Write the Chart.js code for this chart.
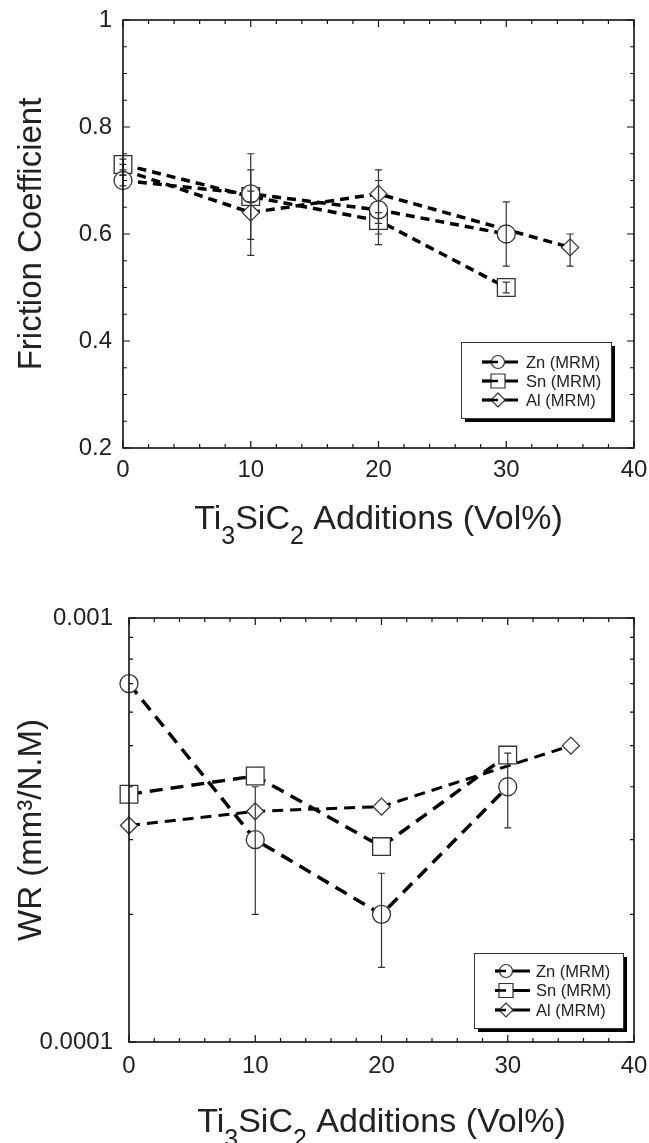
<!DOCTYPE html>
<html lang="en">
<head>
<meta charset="UTF-8" />
<title>Friction and wear vs Ti3SiC2 additions</title>
<script src="https://cdn.jsdelivr.net/npm/chart.js"></script>
<style>
  body { margin: 0; background: #fff; }
  canvas { display: block; }
</style>
</head>
<body>
<canvas id="friction" width="649" height="560"></canvas>
<canvas id="wear" width="649" height="583"></canvas>
<script>
// compositions (vol% Ti3SiC2) for each alloy series
const xZnSn = [0, 10, 20, 30];
const xAl = [0, 10, 20, 35];
const seriesNames = ["Zn (MRM)", "Sn (MRM)", "Al (MRM)"];
const xTicks = [0, 10, 20, 30, 40];

// friction coefficient
const znFriction = [0.70, 0.675, 0.645, 0.60];
const snFriction = [0.73, 0.67, 0.625, 0.50];
const alFriction = [0.72, 0.64, 0.675, 0.575];
const znFrictionErr = [[0.69, 0.71], [0.59, 0.75], [0.58, 0.70], [0.54, 0.66]];
const snFrictionErr = [[0.72, 0.74], [0.66, 0.68], [0.60, 0.64], [0.49, 0.51]];
const alFrictionErr = [[0.71, 0.73], [0.56, 0.72], [0.62, 0.72], [0.54, 0.60]];
const frictionTicks = [0.2, 0.4, 0.6, 0.8, 1];

// wear rate, mm3/N.M
const znWear = [0.0007, 0.0003, 0.0002, 0.0004];
const snWear = [0.000384, 0.000424, 0.000289, 0.000475];
const alWear = [0.000324, 0.00035, 0.000359, 0.0005];
const znWearErr = [null, [0.0002, 0.0004], [0.00015, 0.00025], [0.00032, 0.00048]];
const snWearErr = [null, null, null, null];
const alWearErr = [null, null, null, null];
const wearTicks = [0.0001, 0.001];
const wearTickLabels = ["0.0001", "0.001"];

const FONT = "'Liberation Sans', Arial, sans-serif";
Chart.defaults.font.family = FONT;
Chart.defaults.color = "#222";

function series(label, xs, ys, style, r, width, dash) {
  return {
    label,
    data: xs.map((x, i) => ({ x, y: ys[i] })),
    borderColor: "#000",
    borderWidth: width,
    borderDash: dash,
    pointStyle: style,
    pointRadius: r,
    pointBorderColor: "#333",
    pointBorderWidth: 1.3,
    pointBackgroundColor: "#fff",
    fill: false,
    tension: 0,
    clip: false,
  };
}

function marker(ctx, style, x, y, r) {
  ctx.beginPath();
  if (style === "circle") ctx.arc(x, y, r, 0, Math.PI * 2);
  else if (style === "rect") ctx.rect(x - r, y - r, 2 * r, 2 * r);
  else {
    ctx.moveTo(x, y - r); ctx.lineTo(x + r, y); ctx.lineTo(x, y + r); ctx.lineTo(x - r, y); ctx.closePath();
  }
  ctx.fillStyle = "#fff";
  ctx.fill();
  ctx.strokeStyle = "#333";
  ctx.lineWidth = 1.2;
  ctx.stroke();
}

// frame, inward ticks, error bars, legend box and subscripted x title
const figurePlugin = {
  id: "figure",
  afterDatasetsDraw(chart, args, o) {
    const { ctx, chartArea: a } = chart;
    const xs = chart.scales.x, ys = chart.scales.y;
    ctx.save();

    // error bars
    ctx.strokeStyle = "#333";
    ctx.lineWidth = 1.2;
    o.errors.forEach((errs, i) => {
      const pts = chart.data.datasets[i].data;
      errs.forEach((e, j) => {
        if (!e) return;
        const px = xs.getPixelForValue(pts[j].x);
        const lo = ys.getPixelForValue(e[0]);
        const hi = ys.getPixelForValue(e[1]);
        ctx.beginPath();
        ctx.moveTo(px, lo); ctx.lineTo(px, hi);
        ctx.moveTo(px - 3.5, lo); ctx.lineTo(px + 3.5, lo);
        ctx.moveTo(px - 3.5, hi); ctx.lineTo(px + 3.5, hi);
        ctx.stroke();
      });
    });

    // frame
    ctx.strokeStyle = "#111";
    ctx.lineWidth = 1.6;
    ctx.strokeRect(a.left, a.top, a.right - a.left, a.bottom - a.top);

    // ticks on all four sides, pointing inward
    ctx.lineWidth = 1.2;
    ctx.beginPath();
    for (let v = 0; v <= 40; v += 2) {
      const px = xs.getPixelForValue(v);
      const len = v % 10 === 0 ? 7 : 4;
      ctx.moveTo(px, a.bottom); ctx.lineTo(px, a.bottom - len);
      ctx.moveTo(px, a.top); ctx.lineTo(px, a.top + len);
    }
    o.yMarks.forEach(([v, len]) => {
      const py = ys.getPixelForValue(v);
      ctx.moveTo(a.left, py); ctx.lineTo(a.left + len, py);
      ctx.moveTo(a.right, py); ctx.lineTo(a.right - len, py);
    });
    ctx.stroke();
    ctx.restore();
  },
  afterDraw(chart, args, o) {
    const { ctx, chartArea: a } = chart;
    const L = o.legend;
    ctx.save();

    // legend box with drop shadow
    ctx.fillStyle = "#000";
    ctx.fillRect(L.x + 4, L.y + 4, L.w, L.h);
    ctx.fillStyle = "#fff";
    ctx.fillRect(L.x, L.y, L.w, L.h);
    ctx.strokeStyle = "#333";
    ctx.lineWidth = 1;
    ctx.strokeRect(L.x + 0.5, L.y + 0.5, L.w, L.h);

    const styles = ["circle", "rect", "diamond"];
    const sizes = [6.5, 7, 7];
    chart.data.datasets.forEach((ds, i) => {
      const y = L.y + L.rows[i];
      ctx.strokeStyle = "#000";
      ctx.lineWidth = 3;
      ctx.beginPath();
      ctx.moveTo(L.x + L.lineL, y); ctx.lineTo(L.x + L.lineR, y);
      ctx.stroke();
      marker(ctx, styles[i], L.x + L.symX, y, sizes[i]);
      ctx.strokeStyle = "#000";
      ctx.lineWidth = 2.5;
      ctx.beginPath();
      ctx.moveTo(L.x + L.lineL, y); ctx.lineTo(L.x + L.symX, y);
      ctx.stroke();
      ctx.fillStyle = "#222";
      ctx.font = "16.5px " + FONT;
      ctx.textBaseline = "middle";
      ctx.textAlign = "left";
      ctx.fillText(ds.label, L.x + L.textX, y + 1);
    });

    // x axis title with subscripts
    const parts = [["Ti", 0], ["3", 1], ["SiC", 0], ["2", 1], [" Additions (Vol%)", 0]];
    const big = "34px " + FONT, small = "25px " + FONT;
    let total = 0;
    parts.forEach(([t, sub]) => { ctx.font = sub ? small : big; total += ctx.measureText(t).width; });
    let x = (a.left + a.right) / 2 - total / 2;
    ctx.fillStyle = "#222";
    ctx.textBaseline = "alphabetic";
    ctx.textAlign = "left";
    parts.forEach(([t, sub]) => {
      ctx.font = sub ? small : big;
      ctx.fillText(t, x, o.titleY + (sub ? 15 : 0));
      x += ctx.measureText(t).width;
    });
    ctx.restore();
  },
};

function xScale(height, pad) {
  return {
    type: "linear",
    min: 0,
    max: 40,
    afterBuildTicks: (s) => { s.ticks = xTicks.map((v) => ({ value: v })); },
    afterFit: (s) => { s.height = height; s.paddingLeft = 0; s.paddingRight = 0; },
    grid: { display: false, drawTicks: false },
    border: { display: false },
    ticks: { font: { size: 24 }, color: "#222", padding: pad, maxRotation: 0, autoSkip: false },
  };
}

// friction coefficient marks: minor every 0.05
const frictionMarks = [];
for (let k = 0; k <= 16; k++) frictionMarks.push([0.2 + k * 0.05, k % 4 === 0 ? 7 : 4]);

new Chart(document.getElementById("friction"), {
  type: "line",
  data: {
    datasets: [
      series(seriesNames[0], xZnSn, znFriction, "circle", 9, 3.5, [9, 6]),
      series(seriesNames[1], xZnSn, snFriction, "rect", 12.5, 3.5, [9, 6]),
      series(seriesNames[2], xAl, alFriction, "rectRot", 8.5, 3.5, [9, 6]),
    ],
  },
  options: {
    responsive: false,
    animation: false,
    events: [],
    layout: { padding: { top: 20, right: 15, left: 0, bottom: 0 } },
    plugins: {
      legend: { display: false },
      tooltip: { enabled: false },
      figure: {
        errors: [znFrictionErr, snFrictionErr, alFrictionErr],
        yMarks: frictionMarks,
        titleY: 529,
        legend: { x: 461, y: 342, w: 150, h: 76, rows: [20, 39, 58], symX: 37, lineL: 21, lineR: 57, textX: 65 },
      },
    },
    scales: {
      x: xScale(112, 8),
      y: {
        type: "linear",
        min: 0.2,
        max: 1,
        afterBuildTicks: (s) => { s.ticks = frictionTicks.map((v) => ({ value: v })); },
        afterFit: (s) => { s.width = 123; s.paddingTop = 0; s.paddingBottom = 0; },
        grid: { display: false, drawTicks: false },
        border: { display: false },
        ticks: { font: { size: 24 }, color: "#222", padding: 11, callback: (v) => String(v) },
        title: { display: true, text: "Friction Coefficient", font: { size: 33 }, color: "#222", padding: { top: 12, bottom: 0 } },
      },
    },
  },
  plugins: [figurePlugin],
});

// wear rate marks: log decade with 2..9 minor ticks
const wearMarks = [[0.0001, 7], [0.001, 7]];
for (let m = 2; m <= 9; m++) wearMarks.push([m * 0.0001, 4]);

new Chart(document.getElementById("wear"), {
  type: "line",
  data: {
    datasets: [
      series(seriesNames[0], xZnSn, znWear, "circle", 9, 3.5, [13, 8]),
      series(seriesNames[1], xZnSn, snWear, "rect", 12.5, 3.5, [13, 8]),
      series(seriesNames[2], xAl, alWear, "rectRot", 8.5, 3, [11, 7]),
    ],
  },
  options: {
    responsive: false,
    animation: false,
    events: [],
    layout: { padding: { top: 58, right: 15, left: 0, bottom: 0 } },
    plugins: {
      legend: { display: false },
      tooltip: { enabled: false },
      figure: {
        errors: [znWearErr, snWearErr, alWearErr],
        yMarks: wearMarks,
        titleY: 572,
        legend: { x: 474, y: 393, w: 149, h: 75, rows: [18, 37.5, 57], symX: 32, lineL: 21, lineR: 56, textX: 62 },
      },
    },
    scales: {
      x: xScale(101, 10),
      y: {
        type: "logarithmic",
        min: 0.0001,
        max: 0.001,
        afterBuildTicks: (s) => { s.ticks = wearTicks.map((v) => ({ value: v })); },
        afterFit: (s) => { s.width = 129; s.paddingTop = 0; s.paddingBottom = 0; },
        grid: { display: false, drawTicks: false },
        border: { display: false },
        ticks: { font: { size: 24 }, color: "#222", padding: 16, callback: (v, i) => wearTickLabels[i] },
        title: { display: true, text: "WR (mm³/N.M)", font: { size: 33 }, color: "#222", padding: { top: 12, bottom: 0 } },
      },
    },
  },
  plugins: [figurePlugin],
});
</script>
</body>
</html>
